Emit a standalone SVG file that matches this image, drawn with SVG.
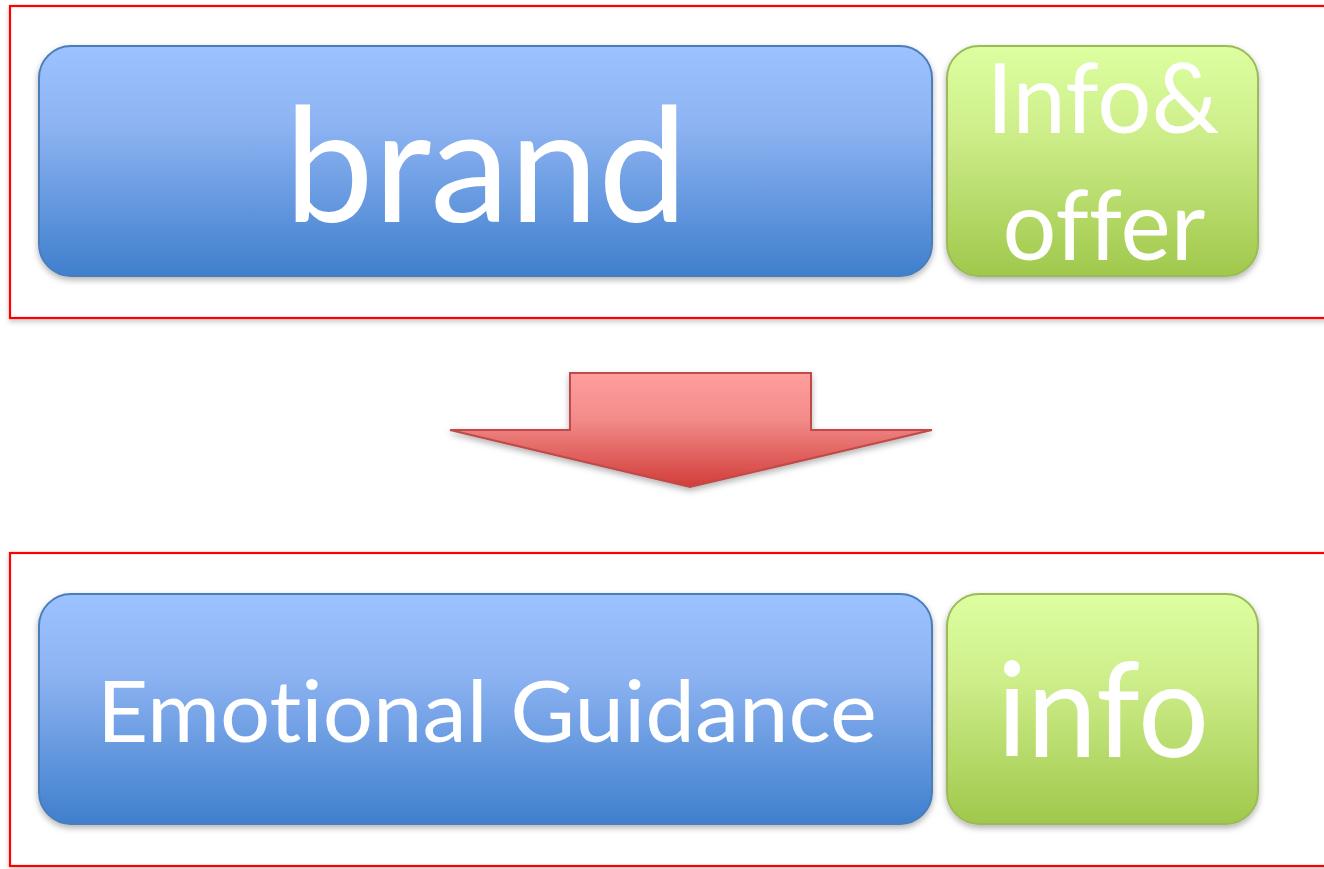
<svg xmlns="http://www.w3.org/2000/svg" width="1324" height="869" viewBox="0 0 1324 869">
<defs>
<linearGradient id="gBlue" x1="0" y1="0" x2="0" y2="1">
<stop offset="0" stop-color="#9CC2FF"/><stop offset="0.35" stop-color="#8DB3F2"/><stop offset="1" stop-color="#3F7FCD"/>
</linearGradient>
<linearGradient id="gGreen" x1="0" y1="0" x2="0" y2="1">
<stop offset="0" stop-color="#DDFFA0"/><stop offset="0.35" stop-color="#CFEF8C"/><stop offset="1" stop-color="#A0C84C"/>
</linearGradient>
<linearGradient id="gRed" x1="0" y1="0" x2="0" y2="1">
<stop offset="0" stop-color="#FF9E9E"/><stop offset="0.4" stop-color="#F28C8A"/><stop offset="1" stop-color="#D23D3A"/>
</linearGradient>
<filter id="sh" x="-10%" y="-10%" width="120%" height="130%">
<feDropShadow dx="0" dy="3" stdDeviation="3" flood-color="#000" flood-opacity="0.3"/>
</filter>
<filter id="sh2" x="-5%" y="-5%" width="110%" height="115%">
<feDropShadow dx="0" dy="3" stdDeviation="2.5" flood-color="#000" flood-opacity="0.2"/>
</filter>
</defs>
<style>
.frame{fill:#fff;stroke:#FF0000;stroke-width:2.2}
.blue{fill:url(#gBlue);stroke:#4A7EBB;stroke-width:2}
.green{fill:url(#gGreen);stroke:#9BBB59;stroke-width:2}
.t{fill:#fff;font-family:Lato,"Open Sans",sans-serif;text-anchor:middle;font-variant-ligatures:none;font-feature-settings:"liga" 0,"dlig" 0}
</style>
<rect width="1324" height="869" fill="#fff"/>
<g id="frame-top"><rect class="frame" x="10" y="6" width="1330" height="312" filter="url(#sh2)"/></g>
<g id="frame-bottom"><rect class="frame" x="10" y="553" width="1330" height="313" filter="url(#sh2)"/></g>
<g id="brand"><rect class="blue" x="39" y="46" width="893" height="230" rx="32" filter="url(#sh)"/>
<text class="t" x="486" y="222" font-size="160" textLength="403" lengthAdjust="spacingAndGlyphs">brand</text></g>
<g id="info-offer"><rect class="green" x="947" y="46" width="311" height="230" rx="32" filter="url(#sh)"/>
<text class="t" x="1103" y="133" font-size="96" textLength="233" lengthAdjust="spacingAndGlyphs">Info&amp;</text>
<text class="t" x="1104" y="260" font-size="96" textLength="203" lengthAdjust="spacingAndGlyphs">offer</text></g>
<g id="connectors"><path d="M570,373 H811 V430 H932 L690,487 L450,430 H570 Z" fill="url(#gRed)" stroke="#BE4B48" stroke-width="2" stroke-linejoin="miter" filter="url(#sh)"/></g>
<g id="emotional"><rect class="blue" x="39" y="594" width="893" height="230" rx="32" filter="url(#sh)"/>
<text class="t" x="487" y="742" font-size="86" textLength="780" lengthAdjust="spacingAndGlyphs">Emotional Guidance</text></g>
<g id="info"><rect class="green" x="947" y="594" width="311" height="230" rx="32" filter="url(#sh)"/>
<text class="t" x="1103" y="757" font-size="132" textLength="212" lengthAdjust="spacingAndGlyphs">info</text></g>
</svg>
